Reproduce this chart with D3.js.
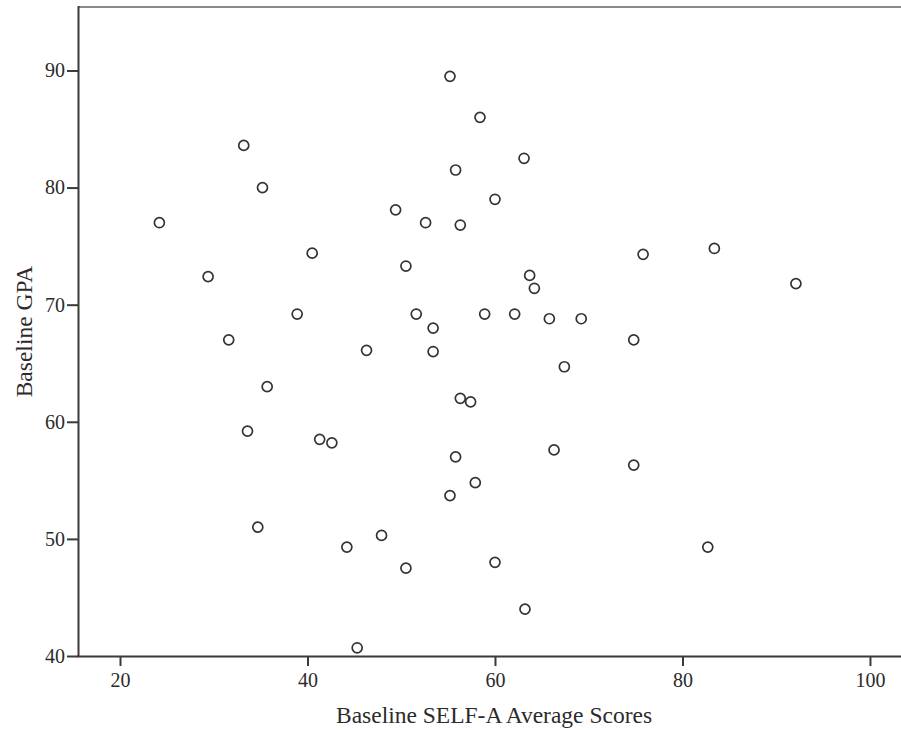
<!DOCTYPE html>
<html>
<head>
<meta charset="utf-8">
<script src="https://cdn.jsdelivr.net/npm/d3@7"></script>
<style>
  html, body { margin: 0; padding: 0; background: #fff; }
  svg { display: block; }
  text { font-family: "Liberation Serif", "Times New Roman", serif; fill: #2b2b2b; }
</style>
</head>
<body>
<svg id="chart" width="901" height="730"></svg>
<script>
// Baseline SELF-A Average Scores (x) and Baseline GPA (y)
const selfAScores = [24.2, 29.4, 31.6, 33.2, 33.6, 34.7, 35.2, 35.7, 38.9, 40.5,
  41.3, 42.6, 44.2, 45.3, 46.3, 47.9, 49.4, 50.5, 50.5, 51.6,
  52.6, 53.4, 53.4, 55.2, 55.2, 55.8, 55.8, 56.3, 56.3, 57.4,
  57.9, 58.4, 58.9, 60.0, 60.0, 62.1, 63.1, 63.2, 63.7, 64.2,
  65.8, 66.3, 67.4, 69.2, 74.8, 74.8, 75.8, 82.7, 83.4, 92.1];
const gpaValues = [77.0, 72.4, 67.0, 83.6, 59.2, 51.0, 80.0, 63.0, 69.2, 74.4,
  58.5, 58.2, 49.3, 40.7, 66.1, 50.3, 78.1, 73.3, 47.5, 69.2,
  77.0, 68.0, 66.0, 89.5, 53.7, 81.5, 57.0, 76.8, 62.0, 61.7,
  54.8, 86.0, 69.2, 79.0, 48.0, 69.2, 82.5, 44.0, 72.5, 71.4,
  68.8, 57.6, 64.7, 68.8, 67.0, 56.3, 74.3, 49.3, 74.8, 71.8];
const xTicks = [20, 40, 60, 80, 100];
const yTicks = [40, 50, 60, 70, 80, 90];
const xTitle = "Baseline SELF-A Average Scores";
const yTitle = "Baseline GPA";

const svg = d3.select("#chart");
const mLeft = 78, mRight = 901, mTop = 7, mBottom = 656;

const x = d3.scaleLinear().domain([15.52, 103.31]).range([mLeft, mRight]);
const y = d3.scaleLinear().domain([40, 95.42]).range([mBottom, mTop]);

// top border
svg.append("line")
  .attr("x1", mLeft).attr("x2", mRight)
  .attr("y1", mTop).attr("y2", mTop)
  .attr("stroke", "#8a8a8a").attr("stroke-width", 2);

// x axis
const gx = svg.append("g").attr("transform", `translate(0,${mBottom})`)
  .call(d3.axisBottom(x).tickValues(xTicks).tickSize(10).tickSizeOuter(0).tickFormat(d3.format("d")));
gx.select(".domain").attr("stroke", "#3a3a3a").attr("stroke-width", 2)
  .attr("d", `M${mLeft - 1},0.5H${mRight}`);
gx.selectAll(".tick line").attr("stroke", "#3a3a3a").attr("stroke-width", 2);
gx.selectAll(".tick text").attr("y", 31).attr("dy", 0)
  .style("font-family", '"Liberation Serif", serif').style("font-size", "20px").attr("fill", "#2b2b2b");

// y axis
const gy = svg.append("g").attr("transform", `translate(${mLeft},0)`)
  .call(d3.axisLeft(y).tickValues(yTicks).tickSize(11).tickSizeOuter(0).tickFormat(d3.format("d")));
gy.select(".domain").attr("stroke", "#3a3a3a").attr("stroke-width", 2)
  .attr("d", `M0.5,${mTop - 1}V${mBottom + 1}`);
gy.selectAll(".tick line").attr("stroke", "#3a3a3a").attr("stroke-width", 2);
gy.selectAll(".tick text").attr("x", -13).attr("dy", "0.32em")
  .style("font-family", '"Liberation Serif", serif').style("font-size", "20px").attr("fill", "#2b2b2b");

// points
const data = selfAScores.map((v, i) => ({ sx: v, gpa: gpaValues[i] }));
svg.append("g").selectAll("circle").data(data).join("circle")
  .attr("cx", d => x(d.sx))
  .attr("cy", d => y(d.gpa))
  .attr("r", 5)
  .attr("fill", "none")
  .attr("stroke", "#333")
  .attr("stroke-width", 1.7);

// titles
svg.append("text")
  .attr("x", 494).attr("y", 723)
  .attr("text-anchor", "middle")
  .style("font-size", "23.5px")
  .text(xTitle);

svg.append("text")
  .attr("transform", `translate(32,${(mTop + mBottom) / 2}) rotate(-90)`)
  .attr("text-anchor", "middle")
  .style("font-size", "23.5px")
  .text(yTitle);
</script>
</body>
</html>
